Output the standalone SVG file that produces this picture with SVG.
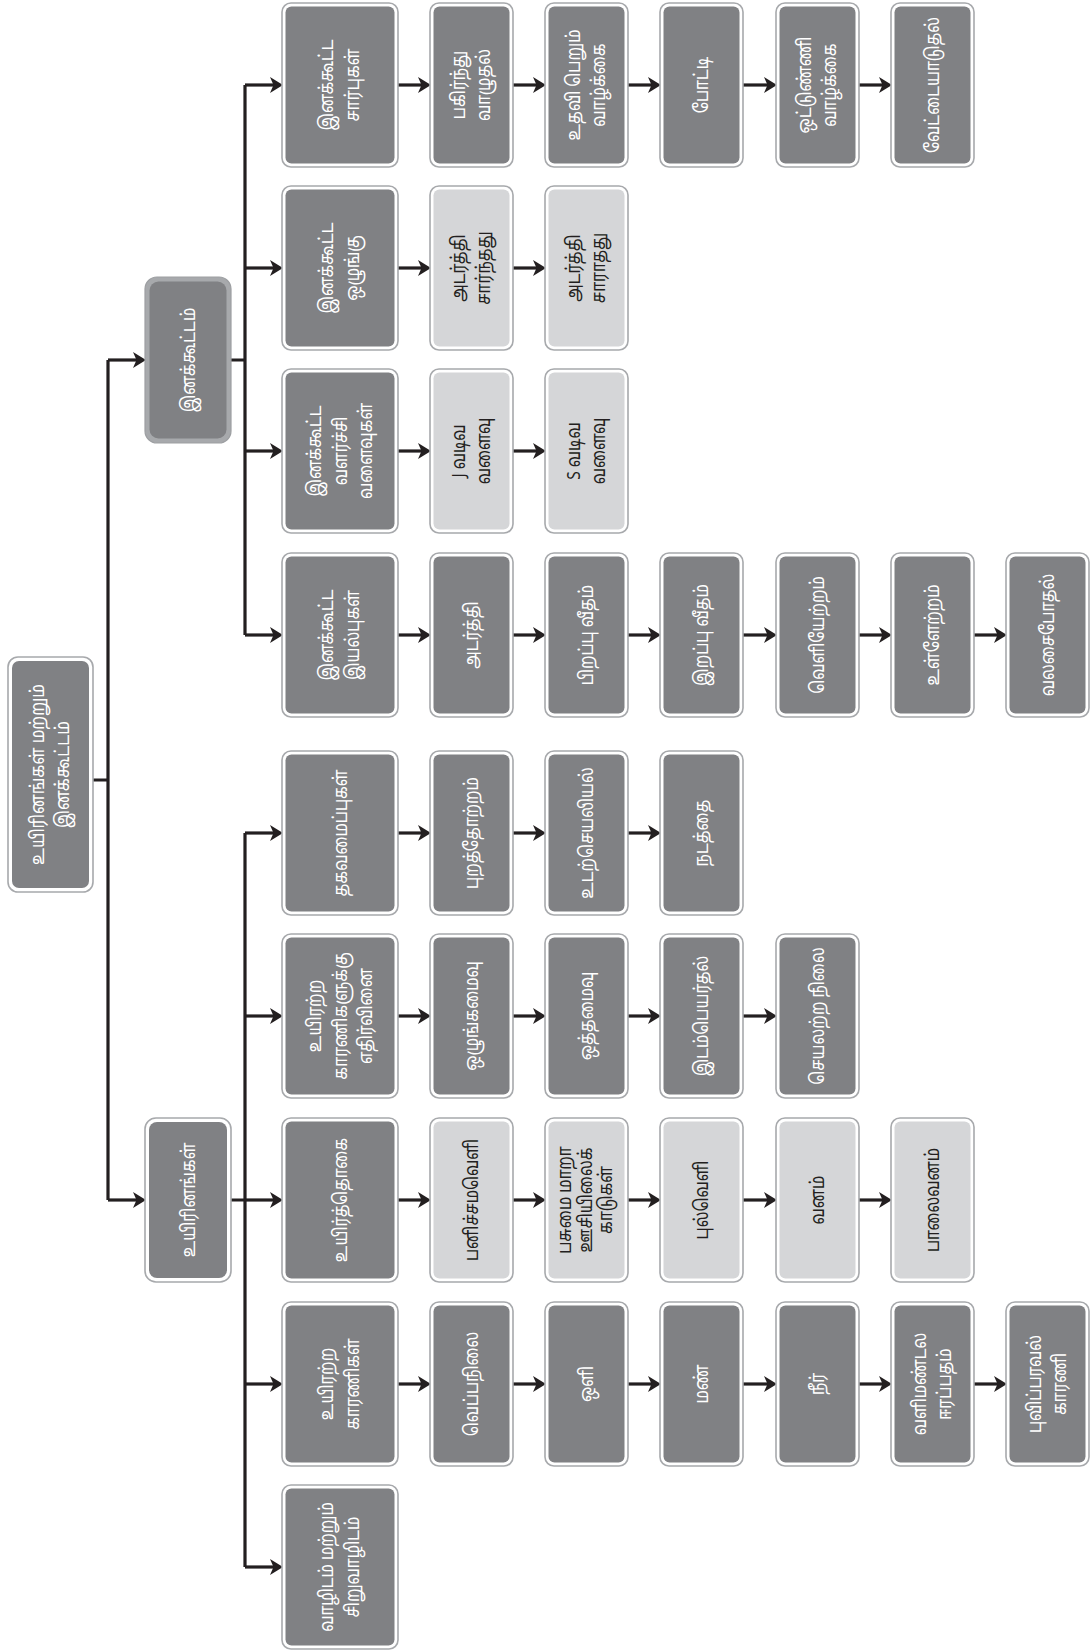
<svg xmlns="http://www.w3.org/2000/svg" width="1091" height="1651" viewBox="0 0 1091 1651">
<style>
.o{fill:#ffffff;stroke:#a7a9ac;stroke-width:1.6}
.o2{fill:#a7a9ac;stroke:#9d9fa2;stroke-width:1.2}
.d{fill:#808184}
.l{fill:#d5d6d8}
text{font-family:"Noto Sans Tamil","Lohit Tamil","Latha","Noto Sans","DejaVu Sans",sans-serif;font-size:19px;text-anchor:middle}
.tw{fill:#ffffff}
.tk{fill:#231f20}
.c{fill:none;stroke:#231f20;stroke-width:3.2}
.a{fill:none;stroke:#231f20;stroke-width:3.2;marker-end:url(#ah)}
</style>
<defs>
<marker id="ah" viewBox="0 0 13 16" refX="6" refY="8" markerWidth="13" markerHeight="16" markerUnits="userSpaceOnUse" orient="auto">
<path d="M0,0 L13,8 L0,16 L3.5,8 Z" fill="#231f20"/>
</marker>
</defs>
<rect width="1091" height="1651" fill="#ffffff"/>

<g id="connectors">
<path class="c" d="M93,780 H108 M108,360 V1200"/>
<path class="a" d="M108,360 H139"/>
<path class="a" d="M108,1200 H139"/>
<path class="c" d="M231,360 H245 M245,85 V635"/>
<path class="a" d="M245,85 H276"/>
<path class="a" d="M245,268 H276"/>
<path class="a" d="M245,451 H276"/>
<path class="a" d="M245,635 H276"/>
<path class="c" d="M231,1200 H245 M245,833 V1567"/>
<path class="a" d="M245,833 H276"/>
<path class="a" d="M245,1016 H276"/>
<path class="a" d="M245,1200 H276"/>
<path class="a" d="M245,1384 H276"/>
<path class="a" d="M245,1567 H276"/>
<path class="a" d="M398,85 H424"/><path class="a" d="M513,85 H539"/><path class="a" d="M628,85 H654"/><path class="a" d="M743,85 H770"/><path class="a" d="M859,85 H885"/>
<path class="a" d="M398,268 H424"/><path class="a" d="M513,268 H539"/>
<path class="a" d="M398,451 H424"/><path class="a" d="M513,451 H539"/>
<path class="a" d="M398,635 H424"/><path class="a" d="M513,635 H539"/><path class="a" d="M628,635 H654"/><path class="a" d="M743,635 H770"/><path class="a" d="M859,635 H885"/><path class="a" d="M974,635 H1000"/>
<path class="a" d="M398,833 H424"/><path class="a" d="M513,833 H539"/><path class="a" d="M628,833 H654"/>
<path class="a" d="M398,1016 H424"/><path class="a" d="M513,1016 H539"/><path class="a" d="M628,1016 H654"/><path class="a" d="M743,1016 H770"/>
<path class="a" d="M398,1200 H424"/><path class="a" d="M513,1200 H539"/><path class="a" d="M628,1200 H654"/><path class="a" d="M743,1200 H770"/><path class="a" d="M859,1200 H885"/>
<path class="a" d="M398,1384 H424"/><path class="a" d="M513,1384 H539"/><path class="a" d="M628,1384 H654"/><path class="a" d="M743,1384 H770"/><path class="a" d="M859,1384 H885"/><path class="a" d="M974,1384 H1000"/>
</g>

<g id="root"><rect class="o" x="8" y="657" width="85" height="235" rx="10"/><rect class="d" x="12" y="661" width="77" height="227" rx="7"/>
<text class="tw" transform="translate(50.5,774.5) rotate(-90) scale(0.84,1)"><tspan x="0" y="-7">உயிரினங்கள் மற்றும்</tspan><tspan x="0" y="19">இனக்கூட்டம்</tspan></text></g>

<g id="n-inakoottam"><rect class="o2" x="145" y="277" width="86" height="166" rx="12"/><rect class="d" x="149.5" y="281.5" width="77" height="157" rx="9"/>
<text class="tw" transform="translate(188,360) rotate(-90) scale(0.82,1)"><tspan x="0" y="6.5">இனக்கூட்டம்</tspan></text></g>

<g id="n-uyirinangal"><rect class="o" x="145" y="1118" width="86" height="164" rx="11"/><rect class="d" x="149" y="1122" width="78" height="156" rx="8"/>
<text class="tw" transform="translate(188,1200) rotate(-90) scale(0.82,1)"><tspan x="0" y="6.5">உயிரினங்கள்</tspan></text></g>

<!-- Row A -->
<g id="a2"><rect class="o" x="282" y="3" width="116" height="164" rx="9"/><rect class="d" x="285.5" y="6.5" width="109" height="157" rx="6"/>
<text class="tw" transform="translate(340,85) rotate(-90) scale(0.82,1)"><tspan x="0" y="-7">இனக்கூட்ட</tspan><tspan x="0" y="19">சார்புகள்</tspan></text></g>
<g id="a3"><rect class="o" x="430" y="3" width="83" height="164" rx="9"/><rect class="d" x="433.5" y="6.5" width="76" height="157" rx="6"/>
<text class="tw" transform="translate(471.5,85) rotate(-90) scale(0.82,1)"><tspan x="0" y="-7">பகிர்ந்து</tspan><tspan x="0" y="19">வாழுதல்</tspan></text></g>
<g id="a4"><rect class="o" x="545" y="3" width="83" height="164" rx="9"/><rect class="d" x="548.5" y="6.5" width="76" height="157" rx="6"/>
<text class="tw" transform="translate(586.5,85) rotate(-90) scale(0.82,1)"><tspan x="0" y="-7">உதவி பெறும்</tspan><tspan x="0" y="19">வாழ்க்கை</tspan></text></g>
<g id="a5"><rect class="o" x="660" y="3" width="83" height="164" rx="9"/><rect class="d" x="663.5" y="6.5" width="76" height="157" rx="6"/>
<text class="tw" transform="translate(701.5,85) rotate(-90) scale(0.82,1)"><tspan x="0" y="6.5">போட்டி</tspan></text></g>
<g id="a6"><rect class="o" x="776" y="3" width="83" height="164" rx="9"/><rect class="d" x="779.5" y="6.5" width="76" height="157" rx="6"/>
<text class="tw" transform="translate(817.5,85) rotate(-90) scale(0.82,1)"><tspan x="0" y="-7">ஒட்டுண்ணி</tspan><tspan x="0" y="19">வாழ்க்கை</tspan></text></g>
<g id="a7"><rect class="o" x="891" y="3" width="83" height="164" rx="9"/><rect class="d" x="894.5" y="6.5" width="76" height="157" rx="6"/>
<text class="tw" transform="translate(932.5,85) rotate(-90) scale(0.82,1)"><tspan x="0" y="6.5">வேட்டையாடுதல்</tspan></text></g>

<!-- Row B -->
<g id="b2"><rect class="o" x="282" y="186" width="116" height="164" rx="9"/><rect class="d" x="285.5" y="189.5" width="109" height="157" rx="6"/>
<text class="tw" transform="translate(340,268) rotate(-90) scale(0.82,1)"><tspan x="0" y="-7">இனக்கூட்ட</tspan><tspan x="0" y="19">ஒழுங்கு</tspan></text></g>
<g id="b3"><rect class="o" x="430" y="186" width="83" height="164" rx="9"/><rect class="l" x="433.5" y="189.5" width="76" height="157" rx="6"/>
<text class="tk" transform="translate(471.5,268) rotate(-90) scale(0.82,1)"><tspan x="0" y="-7">அடர்த்தி</tspan><tspan x="0" y="19">சார்ந்தது</tspan></text></g>
<g id="b4"><rect class="o" x="545" y="186" width="83" height="164" rx="9"/><rect class="l" x="548.5" y="189.5" width="76" height="157" rx="6"/>
<text class="tk" transform="translate(586.5,268) rotate(-90) scale(0.82,1)"><tspan x="0" y="-7">அடர்த்தி</tspan><tspan x="0" y="19">சாராதது</tspan></text></g>

<!-- Row C -->
<g id="c2"><rect class="o" x="282" y="369" width="116" height="164" rx="9"/><rect class="d" x="285.5" y="372.5" width="109" height="157" rx="6"/>
<text class="tw" transform="translate(340,451) rotate(-90) scale(0.82,1)"><tspan x="0" y="-19.5">இனக்கூட்ட</tspan><tspan x="0" y="6.5">வளர்ச்சி</tspan><tspan x="0" y="32.5">வளைவுகள்</tspan></text></g>
<g id="c3"><rect class="o" x="430" y="369" width="83" height="164" rx="9"/><rect class="l" x="433.5" y="372.5" width="76" height="157" rx="6"/>
<text class="tk" transform="translate(471.5,451) rotate(-90) scale(0.82,1)"><tspan x="0" y="-7">J வடிவ</tspan><tspan x="0" y="19">வளைவு</tspan></text></g>
<g id="c4"><rect class="o" x="545" y="369" width="83" height="164" rx="9"/><rect class="l" x="548.5" y="372.5" width="76" height="157" rx="6"/>
<text class="tk" transform="translate(586.5,451) rotate(-90) scale(0.82,1)"><tspan x="0" y="-7">S வடிவ</tspan><tspan x="0" y="19">வளைவு</tspan></text></g>

<!-- Row D -->
<g id="d2"><rect class="o" x="282" y="553" width="116" height="164" rx="9"/><rect class="d" x="285.5" y="556.5" width="109" height="157" rx="6"/>
<text class="tw" transform="translate(340,635) rotate(-90) scale(0.82,1)"><tspan x="0" y="-7">இனக்கூட்ட</tspan><tspan x="0" y="19">இயல்புகள்</tspan></text></g>
<g id="d3"><rect class="o" x="430" y="553" width="83" height="164" rx="9"/><rect class="d" x="433.5" y="556.5" width="76" height="157" rx="6"/>
<text class="tw" transform="translate(471.5,635) rotate(-90) scale(0.82,1)"><tspan x="0" y="6.5">அடர்த்தி</tspan></text></g>
<g id="d4"><rect class="o" x="545" y="553" width="83" height="164" rx="9"/><rect class="d" x="548.5" y="556.5" width="76" height="157" rx="6"/>
<text class="tw" transform="translate(586.5,635) rotate(-90) scale(0.82,1)"><tspan x="0" y="6.5">பிறப்பு வீதம்</tspan></text></g>
<g id="d5"><rect class="o" x="660" y="553" width="83" height="164" rx="9"/><rect class="d" x="663.5" y="556.5" width="76" height="157" rx="6"/>
<text class="tw" transform="translate(701.5,635) rotate(-90) scale(0.82,1)"><tspan x="0" y="6.5">இறப்பு வீதம்</tspan></text></g>
<g id="d6"><rect class="o" x="776" y="553" width="83" height="164" rx="9"/><rect class="d" x="779.5" y="556.5" width="76" height="157" rx="6"/>
<text class="tw" transform="translate(817.5,635) rotate(-90) scale(0.82,1)"><tspan x="0" y="6.5">வெளியேற்றம்</tspan></text></g>
<g id="d7"><rect class="o" x="891" y="553" width="83" height="164" rx="9"/><rect class="d" x="894.5" y="556.5" width="76" height="157" rx="6"/>
<text class="tw" transform="translate(932.5,635) rotate(-90) scale(0.82,1)"><tspan x="0" y="6.5">உள்ளேற்றம்</tspan></text></g>
<g id="d8"><rect class="o" x="1006" y="553" width="83" height="164" rx="9"/><rect class="d" x="1009.5" y="556.5" width="76" height="157" rx="6"/>
<text class="tw" transform="translate(1047.5,635) rotate(-90) scale(0.82,1)"><tspan x="0" y="6.5">வலசைபோதல்</tspan></text></g>

<!-- Row E -->
<g id="e2"><rect class="o" x="282" y="751" width="116" height="164" rx="9"/><rect class="d" x="285.5" y="754.5" width="109" height="157" rx="6"/>
<text class="tw" transform="translate(340,833) rotate(-90) scale(0.82,1)"><tspan x="0" y="6.5">தகவமைப்புகள்</tspan></text></g>
<g id="e3"><rect class="o" x="430" y="751" width="83" height="164" rx="9"/><rect class="d" x="433.5" y="754.5" width="76" height="157" rx="6"/>
<text class="tw" transform="translate(471.5,833) rotate(-90) scale(0.82,1)"><tspan x="0" y="6.5">புறத்தோற்றம்</tspan></text></g>
<g id="e4"><rect class="o" x="545" y="751" width="83" height="164" rx="9"/><rect class="d" x="548.5" y="754.5" width="76" height="157" rx="6"/>
<text class="tw" transform="translate(586.5,833) rotate(-90) scale(0.82,1)"><tspan x="0" y="6.5">உடற்செயலியல்</tspan></text></g>
<g id="e5"><rect class="o" x="660" y="751" width="83" height="164" rx="9"/><rect class="d" x="663.5" y="754.5" width="76" height="157" rx="6"/>
<text class="tw" transform="translate(701.5,833) rotate(-90) scale(0.82,1)"><tspan x="0" y="6.5">நடத்தை</tspan></text></g>

<!-- Row F -->
<g id="f2"><rect class="o" x="282" y="934" width="116" height="164" rx="9"/><rect class="d" x="285.5" y="937.5" width="109" height="157" rx="6"/>
<text class="tw" transform="translate(340,1016) rotate(-90) scale(0.82,1)"><tspan x="0" y="-19.5">உயிரற்ற</tspan><tspan x="0" y="6.5">காரணிகளுக்கு</tspan><tspan x="0" y="32.5">எதிர்வினை</tspan></text></g>
<g id="f3"><rect class="o" x="430" y="934" width="83" height="164" rx="9"/><rect class="d" x="433.5" y="937.5" width="76" height="157" rx="6"/>
<text class="tw" transform="translate(471.5,1016) rotate(-90) scale(0.82,1)"><tspan x="0" y="6.5">ஒழுங்கமைவு</tspan></text></g>
<g id="f4"><rect class="o" x="545" y="934" width="83" height="164" rx="9"/><rect class="d" x="548.5" y="937.5" width="76" height="157" rx="6"/>
<text class="tw" transform="translate(586.5,1016) rotate(-90) scale(0.82,1)"><tspan x="0" y="6.5">ஒத்தமைவு</tspan></text></g>
<g id="f5"><rect class="o" x="660" y="934" width="83" height="164" rx="9"/><rect class="d" x="663.5" y="937.5" width="76" height="157" rx="6"/>
<text class="tw" transform="translate(701.5,1016) rotate(-90) scale(0.82,1)"><tspan x="0" y="6.5">இடம்பெயர்தல்</tspan></text></g>
<g id="f6"><rect class="o" x="776" y="934" width="83" height="164" rx="9"/><rect class="d" x="779.5" y="937.5" width="76" height="157" rx="6"/>
<text class="tw" transform="translate(817.5,1016) rotate(-90) scale(0.82,1)"><tspan x="0" y="6.5">செயலற்ற நிலை</tspan></text></g>

<!-- Row G -->
<g id="g2"><rect class="o" x="282" y="1118" width="116" height="164" rx="9"/><rect class="d" x="285.5" y="1121.5" width="109" height="157" rx="6"/>
<text class="tw" transform="translate(340,1200) rotate(-90) scale(0.82,1)"><tspan x="0" y="6.5">உயிர்த்தொகை</tspan></text></g>
<g id="g3"><rect class="o" x="430" y="1118" width="83" height="164" rx="9"/><rect class="l" x="433.5" y="1121.5" width="76" height="157" rx="6"/>
<text class="tk" transform="translate(471.5,1200) rotate(-90) scale(0.82,1)"><tspan x="0" y="6.5">பனிச்சமவெளி</tspan></text></g>
<g id="g4"><rect class="o" x="545" y="1118" width="83" height="164" rx="9"/><rect class="l" x="548.5" y="1121.5" width="76" height="157" rx="6"/>
<text class="tk" transform="translate(586.5,1200) rotate(-90) scale(0.82,1)"><tspan x="0" y="-16">பசுமை மாறா</tspan><tspan x="0" y="5">ஊசியிலைக்</tspan><tspan x="0" y="26">காடுகள்</tspan></text></g>
<g id="g5"><rect class="o" x="660" y="1118" width="83" height="164" rx="9"/><rect class="l" x="663.5" y="1121.5" width="76" height="157" rx="6"/>
<text class="tk" transform="translate(701.5,1200) rotate(-90) scale(0.82,1)"><tspan x="0" y="6.5">புல்வெளி</tspan></text></g>
<g id="g6"><rect class="o" x="776" y="1118" width="83" height="164" rx="9"/><rect class="l" x="779.5" y="1121.5" width="76" height="157" rx="6"/>
<text class="tk" transform="translate(817.5,1200) rotate(-90) scale(0.82,1)"><tspan x="0" y="6.5">வனம்</tspan></text></g>
<g id="g7"><rect class="o" x="891" y="1118" width="83" height="164" rx="9"/><rect class="l" x="894.5" y="1121.5" width="76" height="157" rx="6"/>
<text class="tk" transform="translate(932.5,1200) rotate(-90) scale(0.82,1)"><tspan x="0" y="6.5">பாலைவனம்</tspan></text></g>

<!-- Row H -->
<g id="h2"><rect class="o" x="282" y="1302" width="116" height="164" rx="9"/><rect class="d" x="285.5" y="1305.5" width="109" height="157" rx="6"/>
<text class="tw" transform="translate(340,1384) rotate(-90) scale(0.82,1)"><tspan x="0" y="-7">உயிரற்ற</tspan><tspan x="0" y="19">காரணிகள்</tspan></text></g>
<g id="h3"><rect class="o" x="430" y="1302" width="83" height="164" rx="9"/><rect class="d" x="433.5" y="1305.5" width="76" height="157" rx="6"/>
<text class="tw" transform="translate(471.5,1384) rotate(-90) scale(0.82,1)"><tspan x="0" y="6.5">வெப்பநிலை</tspan></text></g>
<g id="h4"><rect class="o" x="545" y="1302" width="83" height="164" rx="9"/><rect class="d" x="548.5" y="1305.5" width="76" height="157" rx="6"/>
<text class="tw" transform="translate(586.5,1384) rotate(-90) scale(0.82,1)"><tspan x="0" y="6.5">ஒளி</tspan></text></g>
<g id="h5"><rect class="o" x="660" y="1302" width="83" height="164" rx="9"/><rect class="d" x="663.5" y="1305.5" width="76" height="157" rx="6"/>
<text class="tw" transform="translate(701.5,1384) rotate(-90) scale(0.82,1)"><tspan x="0" y="6.5">மண்</tspan></text></g>
<g id="h6"><rect class="o" x="776" y="1302" width="83" height="164" rx="9"/><rect class="d" x="779.5" y="1305.5" width="76" height="157" rx="6"/>
<text class="tw" transform="translate(817.5,1384) rotate(-90) scale(0.82,1)"><tspan x="0" y="6.5">நீர்</tspan></text></g>
<g id="h7"><rect class="o" x="891" y="1302" width="83" height="164" rx="9"/><rect class="d" x="894.5" y="1305.5" width="76" height="157" rx="6"/>
<text class="tw" transform="translate(932.5,1384) rotate(-90) scale(0.82,1)"><tspan x="0" y="-7">வளிமண்டல</tspan><tspan x="0" y="19">ஈரப்பதம்</tspan></text></g>
<g id="h8"><rect class="o" x="1006" y="1302" width="83" height="164" rx="9"/><rect class="d" x="1009.5" y="1305.5" width="76" height="157" rx="6"/>
<text class="tw" transform="translate(1047.5,1384) rotate(-90) scale(0.82,1)"><tspan x="0" y="-7">புவிப்பரவல்</tspan><tspan x="0" y="19">காரணி</tspan></text></g>

<!-- Row I -->
<g id="i2"><rect class="o" x="282" y="1485" width="116" height="164" rx="9"/><rect class="d" x="285.5" y="1488.5" width="109" height="157" rx="6"/>
<text class="tw" transform="translate(340,1567) rotate(-90) scale(0.82,1)"><tspan x="0" y="-7">வாழிடம் மற்றும்</tspan><tspan x="0" y="19">சிறுவாழிடம்</tspan></text></g>
</svg>
